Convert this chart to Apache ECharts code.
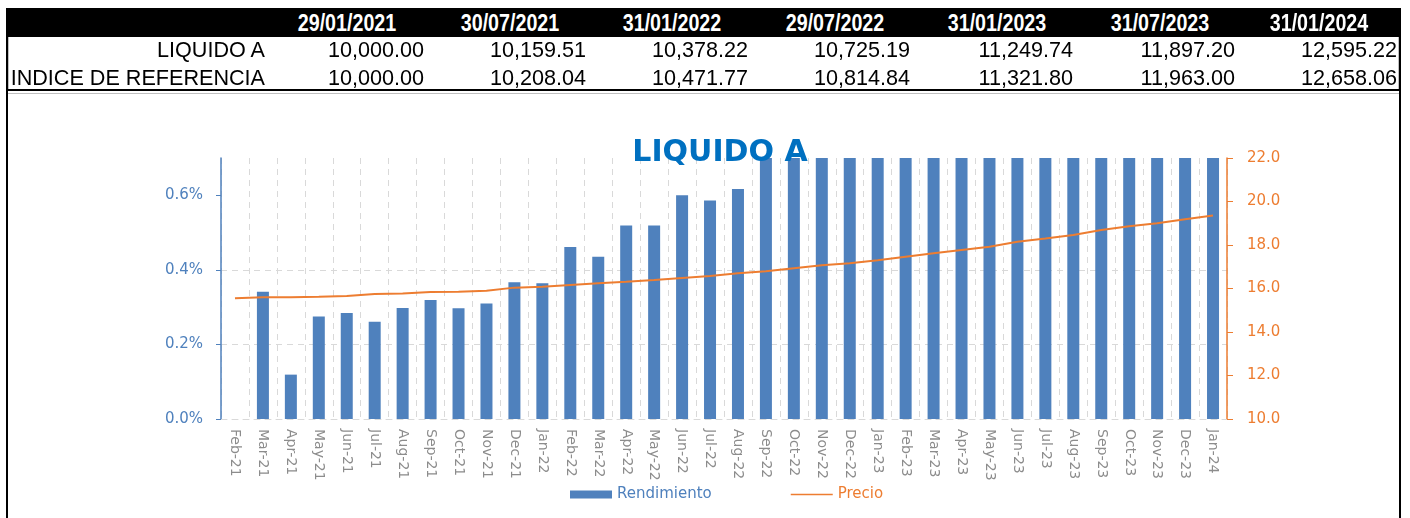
<!DOCTYPE html>
<html>
<head>
<meta charset="utf-8">
<script src="https://cdn.jsdelivr.net/npm/echarts@6/dist/echarts.min.js"></script>
<style>
  body { margin:0; width:1410px; height:518px; overflow:hidden; background:#fff; position:relative; font-family:'Liberation Sans', Arial, sans-serif; }
  #chart { position:absolute; left:0; top:0; width:1410px; height:518px; }
  .blk { position:absolute; background:#000; }
  .gry { position:absolute; background:#bfbfbf; }
  .hd { position:absolute; top:8px; height:29px; line-height:29px; width:200px; text-align:center; color:#fff; font-weight:bold; font-size:24px; transform:scaleX(0.82); transform-origin:center; white-space:nowrap; }
  .cell { position:absolute; height:28px; line-height:28px; width:270px; text-align:right; color:#000; font-size:21.6px; white-space:nowrap; }
</style>
</head>
<body>
<div id="chart"></div>
<div id="table"></div>
<script>
// ---- data ----
const tableDates = ['29/01/2021','30/07/2021','31/01/2022','29/07/2022','31/01/2023','31/07/2023','31/01/2024'];
const rowLabels = ['LIQUIDO A','INDICE DE REFERENCIA'];
const liquidoValues = ['10,000.00','10,159.51','10,378.22','10,725.19','11,249.74','11,897.20','12,595.22'];
const indiceValues = ['10,000.00','10,208.04','10,471.77','10,814.84','11,321.80','11,963.00','12,658.06'];

const categories = ['Feb-21','Mar-21','Apr-21','May-21','Jun-21','Jul-21','Aug-21','Sep-21','Oct-21','Nov-21','Dec-21','Jan-22','Feb-22','Mar-22','Apr-22','May-22','Jun-22','Jul-22','Aug-22','Sep-22','Oct-22','Nov-22','Dec-22','Jan-23','Feb-23','Mar-23','Apr-23','May-23','Jun-23','Jul-23','Aug-23','Sep-23','Oct-23','Nov-23','Dec-23','Jan-24'];
const rendimiento = [null,0.341,0.119,0.275,0.284,0.261,0.298,0.319,0.297,0.310,0.367,0.364,0.461,0.435,0.519,0.519,0.600,0.586,0.617,0.72,0.75,0.80,0.85,0.88,0.87,0.92,0.90,0.95,0.93,0.95,0.97,0.93,0.96,0.94,0.95,0.96];
const precio = [15.55,15.60,15.60,15.62,15.65,15.75,15.77,15.84,15.85,15.90,16.04,16.08,16.16,16.24,16.31,16.39,16.48,16.57,16.70,16.79,16.93,17.07,17.16,17.30,17.46,17.62,17.77,17.92,18.15,18.30,18.46,18.69,18.86,19.00,19.18,19.36];
const leftTicks = [0, 0.2, 0.4, 0.6];

// ---- table (HTML) ----
const headerCenters = [347, 510, 672, 835, 997, 1160, 1319];
const valueRights = [424, 586, 748, 910, 1073, 1235, 1397];
const t = document.getElementById('table');
function add(cls, style, text) {
  const d = document.createElement('div');
  d.className = cls; d.style.cssText = style; if (text !== undefined) d.textContent = text;
  t.appendChild(d);
}
// frame
add('blk', 'left:6px;top:8px;width:1395px;height:29px;');
add('blk', 'left:6px;top:8px;width:2px;height:510px;');
add('blk', 'left:1399px;top:8px;width:2px;height:510px;');
add('gry', 'left:8px;top:37px;width:1px;height:53px;');
add('gry', 'left:1398px;top:37px;width:1px;height:53px;');
add('blk', 'left:6px;top:89px;width:1395px;height:2px;');
add('gry', 'left:8px;top:93px;width:1391px;height:1px;');
tableDates.forEach((d, i) => add('hd', 'left:' + (headerCenters[i] - 100) + 'px;', d));
add('cell', 'left:' + (265 - 270) + 'px;top:36px;', rowLabels[0]);
add('cell', 'left:' + (265 - 270) + 'px;top:64px;', rowLabels[1]);
liquidoValues.forEach((v, i) => add('cell', 'left:' + (valueRights[i] - 270) + 'px;top:36px;', v));
indiceValues.forEach((v, i) => add('cell', 'left:' + (valueRights[i] - 270) + 'px;top:64px;', v));

// ---- chart ----
const chart = echarts.init(document.getElementById('chart'), null, { renderer: 'canvas' });
const gridColor = '#d9d9d9';
const blue = '#4F81BD';
const orange = '#ED7D31';
const font = 'DejaVu Sans';
// thin line legend icon (tiny corner dots keep the bounding box 42x8)
const lineIcon = 'path://M0,0h0.01v0.01h-0.01z M0,3.2h42v1.6h-42z M41.99,7.99h0.01v0.01h-0.01z';
chart.setOption({
  animation: false,
  backgroundColor: 'transparent',
  title: {
    text: 'LIQUIDO A', left: 715, top: 133, textAlign: 'center',
    textStyle: { color: '#0070C0', fontSize: 30, fontWeight: 'bold', fontFamily: font }
  },
  legend: {
    left: 570, top: 487, padding: 0, itemGap: 79, itemWidth: 42, itemHeight: 8,
    textStyle: { fontSize: 15, fontFamily: font },
    data: [
      { name: 'Rendimiento', icon: 'rect', textStyle: { color: blue } },
      { name: 'Precio', icon: lineIcon, textStyle: { color: orange } }
    ]
  },
  grid: { left: 221, right: 183, top: 158, bottom: 99, containLabel: false },
  xAxis: {
    type: 'category', data: categories, boundaryGap: true,
    axisLine: { show: true, lineStyle: { color: gridColor, type: [6, 5] } },
    axisTick: { show: false },
    splitLine: { show: true, interval: 0, lineStyle: { color: gridColor, type: [6, 5] } },
    axisLabel: { interval: 0, rotate: -90, color: '#8c8c8c', fontSize: 14, fontFamily: font, margin: 10 }
  },
  yAxis: [
    {
      type: 'value', position: 'left', min: 0, max: 0.7, interval: 0.2,
      axisLine: { show: true, lineStyle: { color: blue, width: 1.5 } },
      axisTick: { show: true, length: 5, lineStyle: { color: blue }, customValues: leftTicks },
      axisLabel: { color: blue, fontSize: 15, fontFamily: font, margin: 18, showMaxLabel: false, formatter: v => v.toFixed(1) + '%' },
      splitLine: { show: true, showMaxLine: false, lineStyle: { color: gridColor, type: [6, 5] } }
    },
    {
      type: 'value', position: 'right', min: 10, max: 22, interval: 2,
      axisLine: { show: true, lineStyle: { color: orange, width: 1.5 } },
      axisTick: { show: true, length: 6, lineStyle: { color: orange } },
      axisLabel: { color: orange, fontSize: 15, fontFamily: font, margin: 20, formatter: v => v.toFixed(1) },
      splitLine: { show: false }
    }
  ],
  series: [
    { name: 'Rendimiento', type: 'bar', data: rendimiento, barWidth: 12, itemStyle: { color: blue }, clip: true, yAxisIndex: 0 },
    { name: 'Precio', type: 'line', data: precio, yAxisIndex: 1, showSymbol: false, symbol: 'none', lineStyle: { color: orange, width: 2 }, itemStyle: { color: orange } }
  ]
});
</script>
</body>
</html>
